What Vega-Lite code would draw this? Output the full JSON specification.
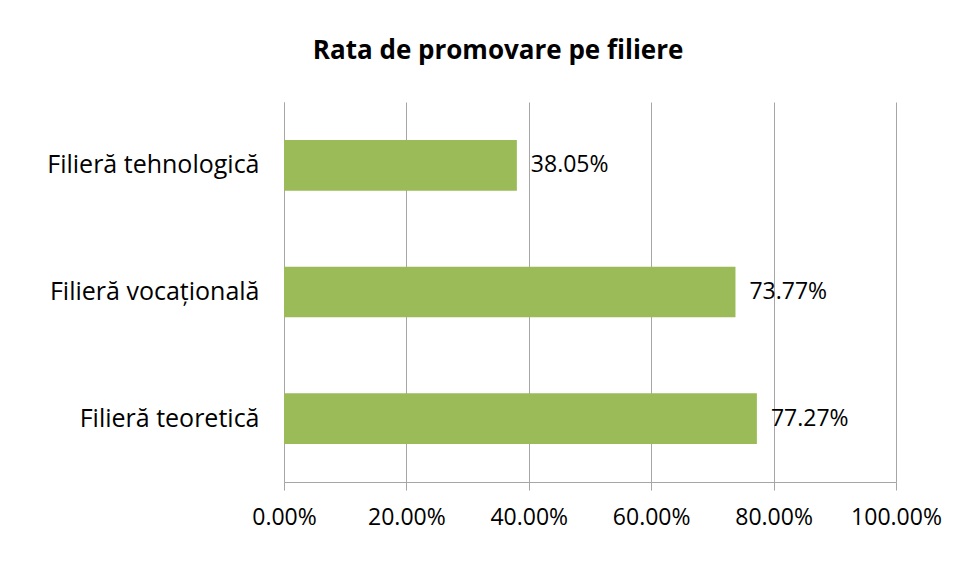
{
  "$schema": "https://vega.github.io/schema/vega-lite/v6.json",
  "width": 612,
  "height": 380,
  "padding": {"left": 46, "top": 38, "right": 20, "bottom": 10},
  "background": "white",
  "title": {
    "text": "Rata de promovare pe filiere",
    "font": "Open Sans",
    "fontSize": 26,
    "fontWeight": "bold",
    "color": "#000000",
    "anchor": "middle",
    "frame": "bounds",
    "offset": 38,
    "dx": 4
  },
  "data": {
    "values": [
      {"filiera": "Filieră tehnologică", "rata": 0.3805},
      {"filiera": "Filieră vocațională", "rata": 0.7377},
      {"filiera": "Filieră teoretică", "rata": 0.7727}
    ]
  },
  "encoding": {
    "y": {
      "field": "filiera",
      "type": "nominal",
      "sort": ["Filieră tehnologică", "Filieră vocațională", "Filieră teoretică"],
      "scale": {"paddingInner": 0.6, "paddingOuter": 0.3},
      "axis": {
        "title": null,
        "ticks": false,
        "domain": true,
        "domainColor": "#A6A6A6",
        "labelFont": "Open Sans",
        "labelFontSize": 25,
        "labelColor": "#000000",
        "labelPadding": 25,
        "labelLimit": 400
      }
    },
    "x": {
      "field": "rata",
      "type": "quantitative",
      "scale": {"domain": [0, 1], "nice": false},
      "axis": {
        "title": null,
        "values": [0, 0.2, 0.4, 0.6, 0.8, 1],
        "format": ".2%",
        "grid": true,
        "gridColor": "#A6A6A6",
        "domainColor": "#A6A6A6",
        "tickColor": "#A6A6A6",
        "tickSize": 8,
        "labelFont": "Open Sans",
        "labelFontSize": 23,
        "labelColor": "#000000",
        "labelPadding": 16,
        "labelFlush": false
      }
    }
  },
  "layer": [
    {"mark": {"type": "bar", "color": "#9BBB59"}},
    {
      "mark": {
        "type": "text",
        "align": "left",
        "baseline": "middle",
        "dx": 14,
        "font": "Open Sans",
        "fontSize": 23,
        "color": "#000000"
      },
      "encoding": {"text": {"field": "rata", "type": "quantitative", "format": ".2%"}}
    }
  ],
  "config": {"view": {"stroke": null}}
}
